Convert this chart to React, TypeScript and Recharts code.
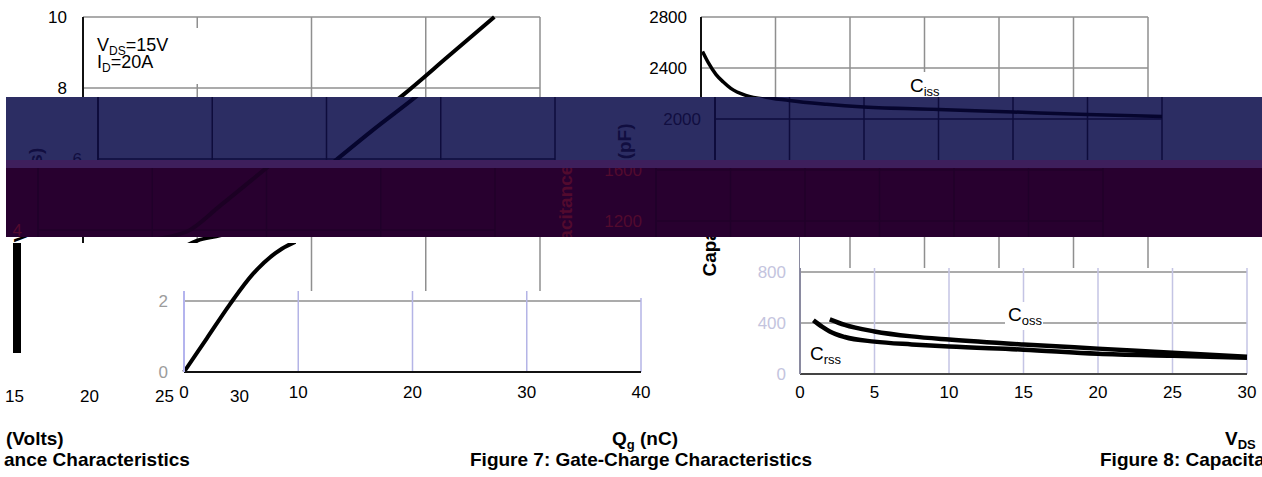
import React from 'react';
import { LineChart, Line, XAxis, YAxis, CartesianGrid } from 'recharts';

// ---------- data ----------
const gateQ = [0, 2, 4, 6, 8, 10, 12, 13, 16, 20, 24, 28, 32, 36];
const gateV = [0, 0.95, 1.9, 2.75, 3.35, 3.7, 3.85, 3.95, 4.7, 5.75, 6.8, 7.8, 8.9, 10];
const gateTicksX = [0, 10, 20, 30, 40];
const gateTicksY = [0, 2, 4, 6, 8, 10];

const vdsTicks = [0, 5, 10, 15, 20, 25, 30];
const capTicks = [0, 400, 800, 1200, 1600, 2000, 2400, 2800];
const cissV = [0.1, 0.5, 1, 1.5, 2, 3, 5, 7.5, 10, 15, 20, 25, 30];
const cissC = [2530, 2440, 2350, 2290, 2240, 2185, 2145, 2115, 2094, 2075, 2055, 2035, 2020];
const cossV = [2, 3, 5, 7.5, 10, 15, 20, 25, 30];
const cossC = [429, 385, 334, 295, 270, 231, 199, 167, 135];
const crssV = [0.9, 1.5, 2, 3, 5, 7.5, 10, 15, 20, 25, 30];
const crssC = [421, 370, 334, 290, 254, 232, 215, 191, 159, 143, 127];

const fig6Ticks = ['15', '20', '25', '30'];

const gateData = gateQ.map((q, i) => ({ x: q, y: gateV[i] }));
const cissData = cissV.map((v, i) => ({ x: v, y: cissC[i] }));
const cossData = cossV.map((v, i) => ({ x: v, y: cossC[i] }));
const crssData = crssV.map((v, i) => ({ x: v, y: crssC[i] }));

const FONT = '"Liberation Sans", Arial, Helvetica, sans-serif';

type Theme = {
  bg: string; gridH: string; gridV: string; axisX: string; axisY: string;
  curve: string; textX: string; textY: string; label: string;
};

const T_MAIN: Theme = { bg: '#ffffff', gridH: '#8f8f8f', gridV: '#8f8f8f', axisX: '#111111', axisY: '#111111', curve: '#000000', textX: '#000000', textY: '#000000', label: '#000000' };
const T_BLUE: Theme = { bg: '#2c2d63', gridH: '#0e0c3c', gridV: '#0e0c3c', axisX: '#0e0c3c', axisY: '#0e0c3c', curve: '#06052e', textX: '#110e40', textY: '#110e40', label: '#110e40' };
const T_PURP: Theme = { bg: '#28002f', gridH: '#20002a', gridV: '#20002a', axisX: '#20002a', axisY: '#20002a', curve: '#1c0024', textX: '#520a2e', textY: '#520a2e', label: '#520a2e' };
const T_LOW7: Theme = { bg: '#ffffff', gridH: '#8f8f8f', gridV: '#b4b4e6', axisX: '#111111', axisY: '#b4b4ee', curve: '#000000', textX: '#000000', textY: '#9c9c9c', label: '#000000' };
const T_LOW8: Theme = { bg: '#ffffff', gridH: '#8f8f8f', gridV: '#c4c4e4', axisX: '#444444', axisY: '#8a8aa0', curve: '#000000', textX: '#000000', textY: '#c4c4de', label: '#000000' };

const Sub = ({ children, size = 12 }: { children: React.ReactNode; size?: number }) => (
  <span style={{ fontSize: size, position: 'relative', top: 4 }}>{children}</span>
);

function Abs({ left, top, w, h, bg, children, style }: any) {
  return (
    <div style={{ position: 'absolute', left, top, width: w, height: h, background: bg, ...style }}>{children}</div>
  );
}

function Rot({ cx, cy, color, size = 19, children }: any) {
  return (
    <div style={{
      position: 'absolute', left: cx, top: cy, transform: 'translate(-50%,-50%) rotate(-90deg)',
      whiteSpace: 'nowrap', fontWeight: 'bold', fontSize: size, color, lineHeight: `${size}px`,
    }}>{children}</div>
  );
}

function Win({ x, y, w, h, bg, children }: any) {
  return (
    <div style={{ position: 'absolute', left: x, top: y, width: w, height: h, overflow: 'hidden', background: bg }}>
      <div style={{ position: 'absolute', left: -x, top: -y, width: 1262, height: 477 }}>{children}</div>
    </div>
  );
}

function GatePanel({ t, dx }: { t: Theme; dx: number }) {
  return (
    <div style={{ position: 'absolute', left: dx, top: 0, width: 560, height: 420 }}>
      <LineChart width={560} height={420} data={gateData} margin={{ top: 17, right: 20, bottom: 18, left: 0 }}>
        <CartesianGrid stroke={t.gridH} strokeWidth={1.5} vertical={false} />
        <CartesianGrid stroke={t.gridV} strokeWidth={1.5} horizontal={false} />
        <XAxis dataKey="x" type="number" domain={[0, 40]} ticks={gateTicksX} interval={0} height={30}
          tickSize={0} tickMargin={14} axisLine={{ stroke: t.axisX, strokeWidth: 2 }}
          tick={{ fill: t.textX, fontSize: 17 }} />
        <YAxis type="number" domain={[0, 10]} ticks={gateTicksY} interval={0} width={83}
          tickSize={0} tickMargin={16} axisLine={{ stroke: t.axisY, strokeWidth: 2 }}
          tick={{ fill: t.textY, fontSize: 17 }} />
        <Line dataKey="y" type="monotone" stroke={t.curve} strokeWidth={4} dot={false} isAnimationActive={false} />
      </LineChart>
      <Abs left={85} top={28} w={114} h={56} bg={t.bg}>
        <div style={{ position: 'absolute', left: 12, top: 8, fontSize: 18, lineHeight: '18px', color: t.label, whiteSpace: 'nowrap' }}>
          V<Sub>DS</Sub>=15V
        </div>
        <div style={{ position: 'absolute', left: 12, top: 25, fontSize: 18, lineHeight: '18px', color: t.label, whiteSpace: 'nowrap' }}>
          I<Sub>D</Sub>=20A
        </div>
      </Abs>
      <Rot cx={21} cy={195} color={t.label}>V<Sub size={13}>GS</Sub> (Volts)</Rot>
    </div>
  );
}

function CapPanel({ t, dx }: { t: Theme; dx: number }) {
  return (
    <div style={{ position: 'absolute', left: 600 + dx, top: 0, width: 570, height: 420 }}>
      <LineChart width={570} height={420} margin={{ top: 17, right: 22, bottom: 16, left: 0 }}>
        <CartesianGrid stroke={t.gridH} strokeWidth={1.5} vertical={false} />
        <CartesianGrid stroke={t.gridV} strokeWidth={1.5} horizontal={false} />
        <XAxis dataKey="x" type="number" domain={[0, 30]} ticks={vdsTicks} interval={0} height={30}
          tickSize={0} tickMargin={12} axisLine={{ stroke: t.axisX, strokeWidth: 2 }}
          tick={{ fill: t.textX, fontSize: 17 }} allowDuplicatedCategory={false} />
        <YAxis type="number" domain={[0, 2800]} ticks={capTicks} interval={0} width={101}
          tickSize={0} tickMargin={14} axisLine={{ stroke: t.axisY, strokeWidth: 2 }}
          tick={{ fill: t.textY, fontSize: 17 }} />
        <Line data={cissData} dataKey="y" type="monotone" stroke={t.curve} strokeWidth={3.5} dot={false} isAnimationActive={false} />
        <Line data={cossData} dataKey="y" type="monotone" stroke={t.curve} strokeWidth={4.5} dot={false} isAnimationActive={false} />
        <Line data={crssData} dataKey="y" type="monotone" stroke={t.curve} strokeWidth={4.5} dot={false} isAnimationActive={false} />
      </LineChart>
      <Abs left={305} top={72} w={56} h={25} bg={t.bg}>
        <div style={{ position: 'absolute', left: 5, top: 4, fontSize: 19, lineHeight: '19px', color: t.label, whiteSpace: 'nowrap' }}>
          C<Sub size={13}>iss</Sub>
        </div>
      </Abs>
      <Abs left={306} top={302} w={38} h={28} bg={t.bg}>
        <div style={{ position: 'absolute', left: 3, top: 3, fontSize: 19, lineHeight: '19px', color: t.label, whiteSpace: 'nowrap' }}>
          C<Sub size={13}>oss</Sub>
        </div>
      </Abs>
      <div style={{ position: 'absolute', left: 111, top: 344, fontSize: 19, lineHeight: '19px', color: t.label, whiteSpace: 'nowrap' }}>
        C<Sub size={13}>rss</Sub>
      </div>
      <Rot cx={10} cy={200} color={t.label}>Capacitance (pF)</Rot>
    </div>
  );
}

function Both({ t, d7, d8 }: { t: Theme; d7: number; d8: number }) {
  return (
    <>
      <GatePanel t={t} dx={d7} />
      <CapPanel t={t} dx={d8} />
    </>
  );
}

const bold19: React.CSSProperties = { position: 'absolute', fontWeight: 'bold', fontSize: 19, lineHeight: '19px', whiteSpace: 'nowrap', color: '#000' };

export default function App() {
  return (
    <div style={{ position: 'absolute', left: 0, top: 0, width: 1262, height: 477, overflow: 'hidden', background: '#fff', fontFamily: FONT }}>
      {/* unshifted base */}
      <Both t={T_MAIN} d7={0} d8={0} />

      {/* blue band */}
      <Win x={6} y={97} w={1256} h={63} bg={T_BLUE.bg}>
        <Both t={T_BLUE} d7={15} d8={14} />
      </Win>
      {/* thin strip */}
      <Win x={6} y={160} w={1256} h={8} bg="#3e1f5c" />
      {/* dark purple band */}
      <Win x={6} y={168} w={1256} h={69} bg={T_PURP.bg}>
        <Both t={T_PURP} d7={-45} d8={-45} />
      </Win>

      {/* lower shifted fragments */}
      <Win x={0} y={243} w={186} h={55} bg="#fff" />
      <Win x={186} y={243} w={110} h={55} bg="#fff">
        <GatePanel t={T_LOW7} dx={101} />
      </Win>
      <Win x={0} y={291} w={662} h={129} bg="#fff">
        <GatePanel t={T_LOW7} dx={101} />
      </Win>
      <Win x={560} y={237} w={240} h={61} bg="#fff">
        <CapPanel t={T_LOW8} dx={99} />
      </Win>
      <Win x={662} y={298} w={138} h={122} bg="#fff">
        <CapPanel t={T_LOW8} dx={99} />
      </Win>
      <Win x={800} y={268} w={462} h={152} bg="#fff">
        <CapPanel t={T_LOW8} dx={99} />
      </Win>

      {/* remnant of previous figure */}
      <div style={{ position: 'absolute', left: 13, top: 243, width: 8, height: 110, background: '#000' }} />
      {fig6Ticks.map((s, i) => (
        <div key={s} style={{ position: 'absolute', left: [5, 80, 155, 230][i], top: 388, fontSize: 17, lineHeight: '17px', color: '#000' }}>{s}</div>
      ))}

      {/* axis titles & captions */}
      <div style={{ ...bold19, left: 6, top: 429 }}>(Volts)</div>
      <div style={{ ...bold19, left: 4, top: 450 }}>ance Characteristics</div>
      <div style={{ ...bold19, left: 612, top: 429 }}>Q<Sub size={13}>g</Sub> (nC)</div>
      <div style={{ ...bold19, left: 470, top: 450 }}>Figure 7: Gate-Charge Characteristics</div>
      <div style={{ ...bold19, left: 1225, top: 429 }}>V<Sub size={13}>DS</Sub></div>
      <div style={{ ...bold19, left: 1100, top: 450 }}>Figure 8: Capacitance Characteristics</div>
    </div>
  );
}
